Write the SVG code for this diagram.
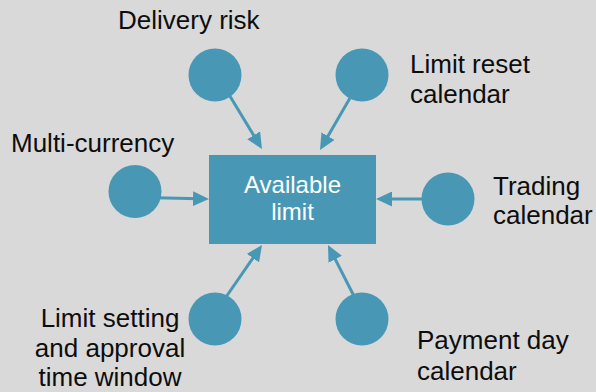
<svg xmlns="http://www.w3.org/2000/svg" width="596" height="392" viewBox="0 0 596 392">
<style>
.bg{fill:#d9d9d9}
.node{fill:#4898b5}
.lbl{font-family:"Liberation Sans",Arial,sans-serif;font-size:26px;fill:#0d0d0d}
.box{font-family:"Liberation Sans",Arial,sans-serif;font-size:24px;fill:#ffffff;text-anchor:middle}
.conn{stroke:#4898b5;stroke-width:3;fill:none;marker-end:url(#ah)}
</style>
<defs>
<marker id="ah" markerUnits="userSpaceOnUse" markerWidth="16" markerHeight="15" refX="6" refY="7.5" orient="auto">
<path d="M0,0 L16,7.5 L0,15 z" fill="#4898b5"/>
</marker>
</defs>
<rect class="bg" x="0" y="0" width="596" height="392"/>
<g id="available-limit">
<rect class="node" x="209" y="155" width="167" height="89"/>
<text class="box" x="292.5" y="193">Available</text>
<text class="box" x="292.5" y="220">limit</text>
</g>
<g id="delivery-risk">
<circle class="node" cx="215" cy="75" r="26.5"/>
<text class="lbl" x="118" y="29">Delivery risk</text>
</g>
<g id="limit-reset-calendar">
<circle class="node" cx="362" cy="75" r="26.5"/>
<text class="lbl" x="410" y="73">Limit reset</text>
<text class="lbl" x="410" y="103">calendar</text>
</g>
<g id="multi-currency">
<circle class="node" cx="135" cy="191.5" r="26.5"/>
<text class="lbl" x="11" y="152">Multi-currency</text>
</g>
<g id="trading-calendar">
<circle class="node" cx="448" cy="199" r="26.5"/>
<text class="lbl" x="493" y="195">Trading</text>
<text class="lbl" x="493" y="224">calendar</text>
</g>
<g id="limit-setting">
<circle class="node" cx="215" cy="319" r="26.5"/>
<text class="lbl" x="110" y="327" text-anchor="middle">Limit setting</text>
<text class="lbl" x="110" y="357" text-anchor="middle">and approval</text>
<text class="lbl" x="110" y="386" text-anchor="middle">time window</text>
</g>
<g id="payment-day-calendar">
<circle class="node" cx="362" cy="319" r="26.5"/>
<text class="lbl" x="417" y="349">Payment day</text>
<text class="lbl" x="417" y="380">calendar</text>
</g>
<g id="connectors">
<line class="conn" x1="225" y1="88" x2="256.8" y2="140.4"/>
<line class="conn" x1="350" y1="98" x2="325" y2="141.3"/>
<line class="conn" x1="145" y1="197.5" x2="199" y2="198.8"/>
<line class="conn" x1="422" y1="199" x2="386" y2="199"/>
<line class="conn" x1="226" y1="297" x2="256.3" y2="253.2"/>
<line class="conn" x1="357" y1="302" x2="332.5" y2="253.9"/>
</g>
</svg>
